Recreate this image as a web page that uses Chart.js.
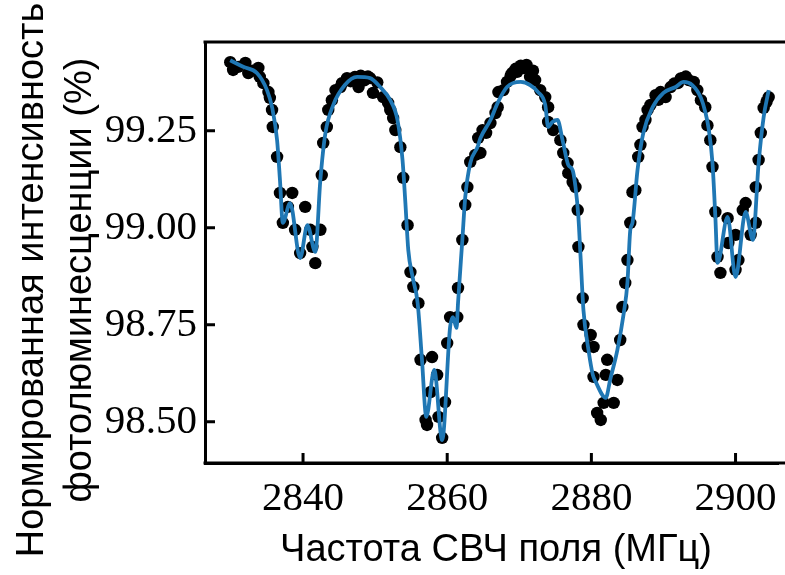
<!DOCTYPE html>
<html>
<head>
<meta charset="utf-8">
<script src="https://cdn.jsdelivr.net/npm/chart.js@4.4.1/dist/chart.umd.min.js"></script>
<style>
html,body{margin:0;padding:0;background:#fff;overflow:hidden;}
#wrap{width:785px;height:575px;position:relative;}
</style>
</head>
<body>
<div id="wrap"><canvas id="c" width="785" height="575"></canvas></div>
<script>
// Measured points (frequency, MHz)
const scatterX = [2829.9,2830.3,2831.0,2832.0,2832.4,2833.0,2833.8,2834.0,2834.5,2835.2,2835.4,2835.7,2835.8,2836.4,2836.8,2837.2,2837.9,2838.5,2838.9,2839.6,2840.3,2841.0,2841.3,2841.7,2842.4,2842.6,2842.8,2843.3,2843.5,2844.0,2844.5,2845.2,2845.4,2846.1,2846.6,2847.2,2847.7,2848.0,2848.5,2849.0,2849.3,2849.7,2850.3,2851.1,2851.8,2852.1,2852.5,2852.8,2853.5,2853.9,2854.5,2854.9,2855.3,2856.0,2856.3,2857.0,2857.2,2857.7,2857.9,2858.6,2858.8,2859.3,2859.7,2860.0,2860.4,2861.4,2861.5,2862.1,2862.5,2862.8,2863.2,2863.9,2864.3,2864.6,2864.9,2865.4,2866.0,2866.7,2867.0,2867.1,2867.8,2868.3,2868.8,2869.0,2869.5,2869.7,2870.2,2870.6,2871.0,2871.5,2871.9,2872.2,2872.9,2873.6,2874.0,2874.0,2874.7,2875.7,2876.1,2876.7,2876.8,2877.4,2877.8,2878.1,2878.2,2878.8,2878.9,2879.5,2879.9,2880.3,2880.3,2880.8,2881.3,2881.7,2882.0,2882.2,2883.1,2883.6,2884.0,2884.3,2884.7,2885.0,2885.4,2885.7,2886.1,2886.5,2886.8,2887.1,2887.5,2887.8,2888.2,2888.9,2889.3,2889.6,2890.3,2891.0,2891.5,2892.0,2892.4,2892.7,2893.1,2893.5,2894.2,2894.7,2895.2,2895.8,2896.1,2896.5,2896.8,2897.2,2897.5,2897.9,2898.9,2899.0,2900.0,2900.0,2900.4,2901.0,2901.4,2902.1,2902.8,2902.8,2903.2,2903.5,2903.9,2904.3,2904.6];
// Measured points (normalized PL intensity, %)
const scatterY = [99.427,99.407,99.415,99.425,99.399,99.405,99.412,99.389,99.373,99.350,99.335,99.304,99.260,99.183,99.090,99.013,99.054,99.090,98.995,98.935,99.054,98.995,98.951,98.909,98.995,99.136,99.219,99.260,99.304,99.329,99.355,99.363,99.373,99.386,99.378,99.389,99.363,99.392,99.380,99.390,99.386,99.348,99.375,99.337,99.322,99.304,99.283,99.252,99.208,99.129,99.007,98.886,98.848,98.806,98.660,98.505,98.492,98.577,98.667,98.621,98.513,98.459,98.551,98.703,98.770,98.770,98.845,98.969,99.059,99.105,99.170,99.188,99.232,99.193,99.252,99.245,99.270,99.296,99.311,99.350,99.355,99.376,99.392,99.399,99.410,99.402,99.418,99.412,99.420,99.389,99.405,99.381,99.355,99.337,99.311,99.273,99.252,99.226,99.193,99.167,99.141,99.118,99.105,99.046,98.951,98.819,98.750,98.693,98.724,98.693,98.616,98.523,98.505,98.549,98.621,98.660,98.549,98.608,98.711,98.796,98.858,98.917,99.013,99.092,99.097,99.183,99.214,99.260,99.278,99.304,99.317,99.342,99.330,99.350,99.337,99.363,99.372,99.373,99.385,99.386,99.390,99.381,99.376,99.355,99.329,99.311,99.264,99.226,99.157,99.041,98.925,98.884,99.025,98.961,98.982,98.892,98.917,99.046,99.064,98.982,99.013,99.105,99.175,99.245,99.309,99.325,99.337];
// Fit curve
const fitX = [2829.9,2831.7,2833.6,2835.0,2835.7,2836.4,2836.8,2837.2,2838.2,2839.6,2840.6,2841.7,2842.4,2843.1,2844.2,2845.8,2847.5,2849.3,2850.7,2852.1,2853.1,2853.8,2854.2,2854.6,2855.2,2855.9,2856.5,2857.1,2858.2,2859.3,2860.4,2860.8,2861.3,2861.5,2862.1,2862.5,2863.2,2864.2,2864.6,2866.0,2867.0,2868.3,2870.2,2871.5,2872.6,2873.6,2874.0,2874.6,2875.3,2876.0,2876.8,2877.4,2877.8,2878.2,2878.5,2878.9,2879.6,2880.2,2880.6,2882.0,2882.6,2883.6,2884.5,2885.0,2885.4,2885.7,2886.4,2887.2,2888.5,2890.0,2891.7,2892.8,2894.0,2895.2,2895.8,2896.3,2896.8,2897.2,2897.5,2898.9,2900.0,2901.4,2902.4,2903.2,2903.9,2904.6];
const fitY = [99.432,99.415,99.399,99.355,99.311,99.226,99.123,99.013,99.064,98.922,99.007,98.938,99.123,99.244,99.317,99.368,99.389,99.386,99.363,99.329,99.278,99.175,99.064,98.943,98.873,98.806,98.660,98.513,98.634,98.453,98.744,98.770,98.742,98.806,98.969,99.079,99.167,99.208,99.231,99.278,99.322,99.363,99.376,99.368,99.350,99.317,99.260,99.273,99.278,99.226,99.162,99.149,99.105,99.028,98.925,98.788,98.685,98.621,98.603,98.562,98.608,98.685,98.781,98.858,98.995,99.013,99.149,99.244,99.311,99.348,99.363,99.376,99.368,99.335,99.299,99.252,99.167,99.028,98.910,99.028,98.873,99.041,98.969,99.167,99.286,99.355];
const xTicks = [2840,2860,2880,2900];
const yTicks = [98.50,98.75,99.00,99.25];
const xTitle = 'Частота СВЧ поля (МГц)';
const yTitle = ['Нормированная интенсивность','фотолюминесценции (%)'];

const scatterData = scatterX.map((x,i)=>({x:x,y:scatterY[i]}));
const fitData = fitX.map((x,i)=>({x:x,y:fitY[i]}));

const frame = {
  id:'frame',
  afterDraw(chart){
    const ctx = chart.ctx;
    const ca = chart.chartArea;
    const xs = chart.scales.x, ys = chart.scales.y;
    ctx.save();
    ctx.strokeStyle = '#000';
    ctx.lineWidth = 3;
    ctx.beginPath();
    ctx.moveTo(ca.left-1.5, ca.top); ctx.lineTo(chart.width, ca.top);
    ctx.moveTo(ca.left-1.5, ca.bottom); ctx.lineTo(chart.width, ca.bottom);
    ys.ticks.forEach(t=>{const p=ys.getPixelForValue(t.value); ctx.moveTo(ca.left, p); ctx.lineTo(ca.left+10, p);});
    xs.ticks.forEach(t=>{const p=xs.getPixelForValue(t.value); ctx.moveTo(p, ca.bottom); ctx.lineTo(p, ca.bottom-10);});
    ctx.stroke();
    ctx.fillStyle = '#000';
    ctx.font = '38px "Liberation Sans", Arial, sans-serif';
    ctx.textAlign = 'center';
    ctx.textBaseline = 'middle';
    ctx.fillText(xTitle, 496, 551);
    ctx.translate(0, 280);
    ctx.rotate(-Math.PI/2);
    ctx.fillText(yTitle[0], 0, 33);
    ctx.fillText(yTitle[1], 0, 81);
    ctx.restore();
  }
};

new Chart(document.getElementById('c'), {
  type:'scatter',
  data:{datasets:[
    {label:'fit', data:fitData, showLine:true, borderColor:'#1f77b4', borderWidth:3.8, pointRadius:0, fill:false, cubicInterpolationMode:'monotone', order:0},
    {label:'data', data:scatterData, backgroundColor:'#000', borderColor:'#000', pointRadius:6.2, pointBorderWidth:0, showLine:false, order:1}
  ]},
  options:{
    responsive:false, animation:false,
    layout:{padding:{left:0,top:42,right:0,bottom:0}},
    plugins:{legend:{display:false}, tooltip:{enabled:false}},
    scales:{
      x:{type:'linear', min:2826.4, max:2906.0,
        afterBuildTicks:(s)=>{s.ticks = xTicks.map(v=>({value:v}));},
        afterFit:(s)=>{s.height = 112; s.paddingLeft = 0; s.paddingRight = 0;},
        grid:{display:false, drawTicks:false},
        border:{display:true, color:'#000', width:3},
        ticks:{color:'#000', padding:12, maxRotation:0, autoSkip:false,
          font:{family:'"Liberation Serif", "Times New Roman", serif', size:41},
          callback:(v)=>String(v)}
      },
      y:{type:'linear', min:98.394, max:99.479,
        afterBuildTicks:(s)=>{s.ticks = yTicks.map(v=>({value:v}));},
        afterFit:(s)=>{s.width = 205; s.paddingTop = 0; s.paddingBottom = 0;},
        grid:{display:false, drawTicks:false},
        border:{display:true, color:'#000', width:3},
        ticks:{color:'#000', padding:8, autoSkip:false,
          font:{family:'"Liberation Serif", "Times New Roman", serif', size:41},
          callback:(v)=>Number(v).toFixed(2)}
      }
    }
  },
  plugins:[frame]
});
</script>
</body>
</html>
